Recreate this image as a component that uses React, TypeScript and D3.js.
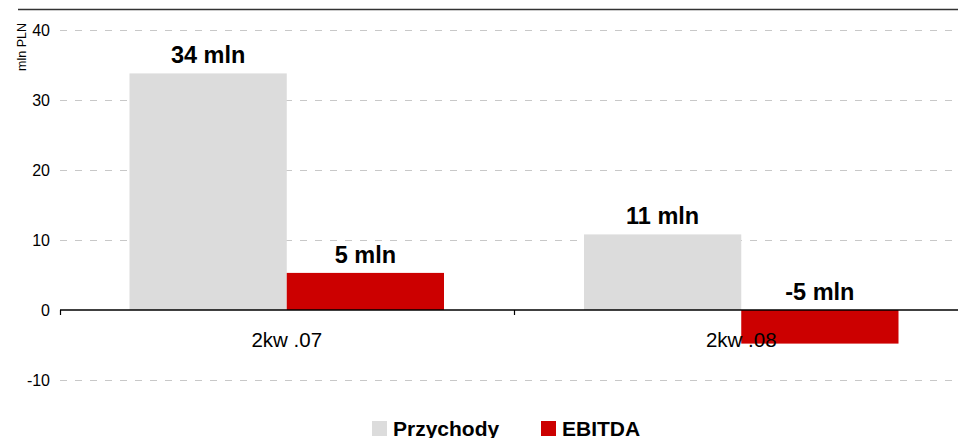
import React from "react";
import * as d3 from "d3";

const categories = ["2kw .07", "2kw .08"];
const seriesNames = ["Przychody", "EBITDA"];
const przychody = [33.8, 10.8];
const ebitda = [5.3, -4.8];
const yTicks = [-10, 0, 10, 20, 30, 40];
const yAxisTitle = "mln PLN";
const valueSuffix = " mln";

const W = 959;
const H = 438;
const FONT = "'Liberation Sans', Arial, Helvetica, sans-serif";
const COLORS: Record<string, string> = { Przychody: "#dcdcdc", EBITDA: "#cc0000" };

export default function App() {
  const x0 = d3.scaleBand<string>().domain(categories).range([59.5, 968.5]).padding(0);
  const bw = x0.bandwidth();
  const x1 = d3.scaleBand<string>().domain(seriesNames).range([70, bw - 70]).padding(0);
  const y = d3.scaleLinear().domain([-10, 40]).range([380, 30]);
  const series: Record<string, number[]> = { Przychody: przychody, EBITDA: ebitda };

  const left = 60;
  const right = 958;

  return (
    <svg width={W} height={H} style={{ position: "absolute", left: 0, top: 0, background: "#fff" }} fontFamily={FONT}>
      {/* top frame line */}
      <line x1={18} x2={958} y1={9.5} y2={9.5} stroke="#333" strokeWidth={1.3} />
      {/* gridlines */}
      {yTicks.filter((t) => t !== 0).map((t) => (
        <line key={t} x1={left} x2={right} y1={Math.round(y(t)) + 0.5} y2={Math.round(y(t)) + 0.5}
          stroke="#c8c8c8" strokeWidth={1} strokeDasharray="7 8" />
      ))}
      {/* bars */}
      {categories.map((c, i) =>
        seriesNames.map((s) => {
          const v = series[s][i];
          const yTop = y(Math.max(0, v));
          const yBot = y(Math.min(0, v));
          return (
            <rect key={c + s} x={(x0(c) as number) + (x1(s) as number)} y={yTop}
              width={x1.bandwidth()} height={yBot - yTop} fill={COLORS[s]} />
          );
        })
      )}
      {/* zero axis */}
      <line x1={left} x2={right} y1={y(0)} y2={y(0)} stroke="#000" strokeWidth={1.3} />
      {[59.5, ...categories.slice(1).map((c) => x0(c) as number)].map((tx, i) => (
        <line key={i} x1={Math.round(tx) + 0.5} x2={Math.round(tx) + 0.5} y1={y(0)} y2={y(0) + 5} stroke="#000" strokeWidth={1.2} />
      ))}
      {/* y tick labels */}
      {yTicks.map((t) => (
        <text key={t} x={50} y={y(t)} textAnchor="end" dominantBaseline="central" fontSize={16} fill="#000">
          {t}
        </text>
      ))}
      {/* y axis title */}
      <text transform="translate(26,23) rotate(-90)" textAnchor="end" fontSize={12.5} fill="#000">
        {yAxisTitle}
      </text>
      {/* x labels */}
      {categories.map((c) => (
        <text key={c} x={(x0(c) as number) + bw / 2} y={347} textAnchor="middle" fontSize={20.5} fill="#000">
          {c}
        </text>
      ))}
      {/* value labels */}
      {categories.map((c, i) =>
        seriesNames.map((s) => {
          const v = series[s][i];
          const cx = (x0(c) as number) + (x1(s) as number) + x1.bandwidth() / 2;
          return (
            <text key={"l" + c + s} x={cx} y={y(Math.max(0, v)) - 10} textAnchor="middle"
              fontSize={23.5} fontWeight="bold" fill="#000">
              {Math.round(v) + valueSuffix}
            </text>
          );
        })
      )}
      {/* legend */}
      {[
        { s: seriesNames[0], x: 372 },
        { s: seriesNames[1], x: 541 },
      ].map(({ s, x }) => (
        <g key={s}>
          <rect x={x} y={421} width={15} height={15} fill={COLORS[s]} />
          <text x={x + 21} y={435.5} fontSize={21} fontWeight="bold" fill="#000">
            {s}
          </text>
        </g>
      ))}
    </svg>
  );
}
